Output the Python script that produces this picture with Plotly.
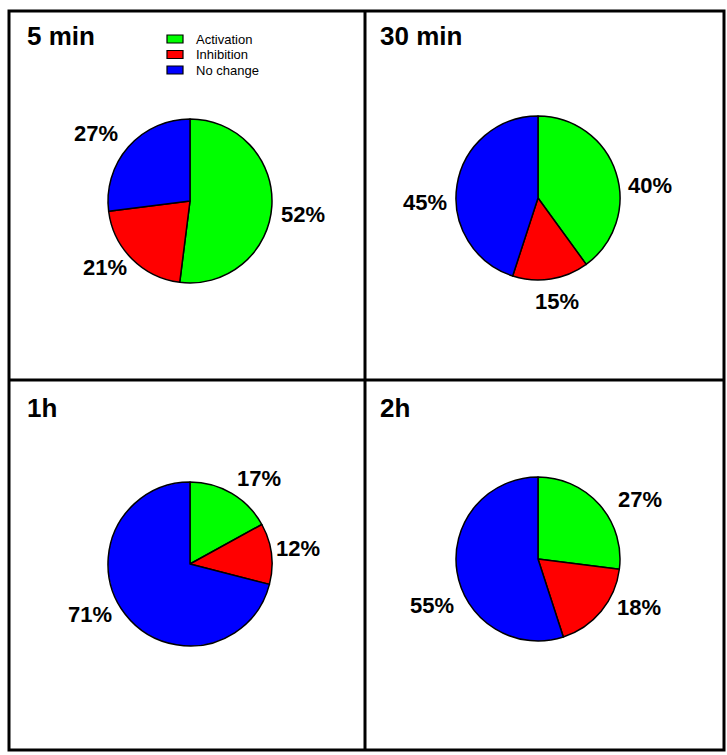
import plotly.graph_objects as go

W, H = 727, 755

# ---- data ----
categories = ["Activation", "Inhibition", "No change"]
panel_titles = ["5 min", "30 min", "1h", "2h"]
values_5min = [52, 21, 27]
values_30min = [40, 15, 45]
values_1h = [17, 12, 71]
values_2h = [27, 18, 55]
all_values = [values_5min, values_30min, values_1h, values_2h]
colors = ["#00FF00", "#FF0000", "#0000FF"]

# ---- layout (pixel positions in the 727x755 page) ----
centers = [(190, 201), (538, 198), (190, 564), (538, 559)]
radius = 82
title_pos = [(25, 36), (378, 36), (25, 408), (378, 408)]
# placement of the percentage text for each slice (Activation, Inhibition, No change)
label_pos = [
    [(303, 214), (105, 267), (96, 133)],
    [(650, 186), (557, 301), (425, 202)],
    [(259, 478), (298, 548), (90, 614)],
    [(640, 499), (639, 607), (432, 605)],
]
FONT = "Arial, Liberation Sans, Helvetica, sans-serif"

fig = go.Figure()
for i, (vals, (cx, cy)) in enumerate(zip(all_values, centers)):
    fig.add_trace(go.Pie(
        labels=categories,
        values=vals,
        sort=False,
        direction="clockwise",
        rotation=0,
        marker=dict(colors=colors, line=dict(color="black", width=1.5)),
        textinfo="none",
        showlegend=False,
        hoverinfo="skip",
        domain=dict(x=[(cx - radius) / W, (cx + radius) / W],
                    y=[1 - (cy + radius) / H, 1 - (cy - radius) / H]),
    ))
    for v, (lx, ly) in zip(vals, label_pos[i]):
        fig.add_annotation(text="<b>%d%%</b>" % v, x=lx / W, y=1 - ly / H,
                           xref="paper", yref="paper", xanchor="center", yanchor="middle",
                           showarrow=False, font=dict(family=FONT, size=22, color="black"))

for t, (tx, ty) in zip(panel_titles, title_pos):
    fig.add_annotation(text="<b>%s</b>" % t, x=tx / W, y=1 - ty / H, xref="paper", yref="paper",
                       xanchor="left", yanchor="middle", showarrow=False,
                       font=dict(family=FONT, size=26, color="black"))

# legend (drawn manually to match the compact row spacing)
leg_x, leg_y0, leg_dy = 167, 39, 15.5
for k, (name, col) in enumerate(zip(categories, colors)):
    yc = leg_y0 + k * leg_dy
    fig.add_shape(type="rect", xref="paper", yref="paper",
                  x0=leg_x / W, x1=(leg_x + 16) / W,
                  y0=1 - (yc + 4) / H, y1=1 - (yc - 4) / H,
                  fillcolor=col, line=dict(color="black", width=1.2))
    fig.add_annotation(text=name, x=(leg_x + 27) / W, y=1 - yc / H, xref="paper", yref="paper",
                       xanchor="left", yanchor="middle", showarrow=False,
                       font=dict(family=FONT, size=13, color="black"))

line = dict(color="black", width=3)
fig.add_shape(type="rect", xref="paper", yref="paper", x0=9 / W, x1=724 / W,
              y0=1 - 750 / H, y1=1 - 11 / H, line=line)
fig.add_shape(type="line", xref="paper", yref="paper", x0=365 / W, x1=365 / W,
              y0=1 - 750 / H, y1=1 - 11 / H, line=line)
fig.add_shape(type="line", xref="paper", yref="paper", x0=9 / W, x1=724 / W,
              y0=1 - 380 / H, y1=1 - 380 / H, line=line)

fig.update_layout(
    width=W, height=H,
    margin=dict(l=0, r=0, t=0, b=0),
    paper_bgcolor="white",
    plot_bgcolor="white",
    showlegend=False,
)

fig.write_html("out.html", config={"displayModeBar": False},
               post_script="document.body.style.margin='0';document.body.style.overflow='hidden';")
